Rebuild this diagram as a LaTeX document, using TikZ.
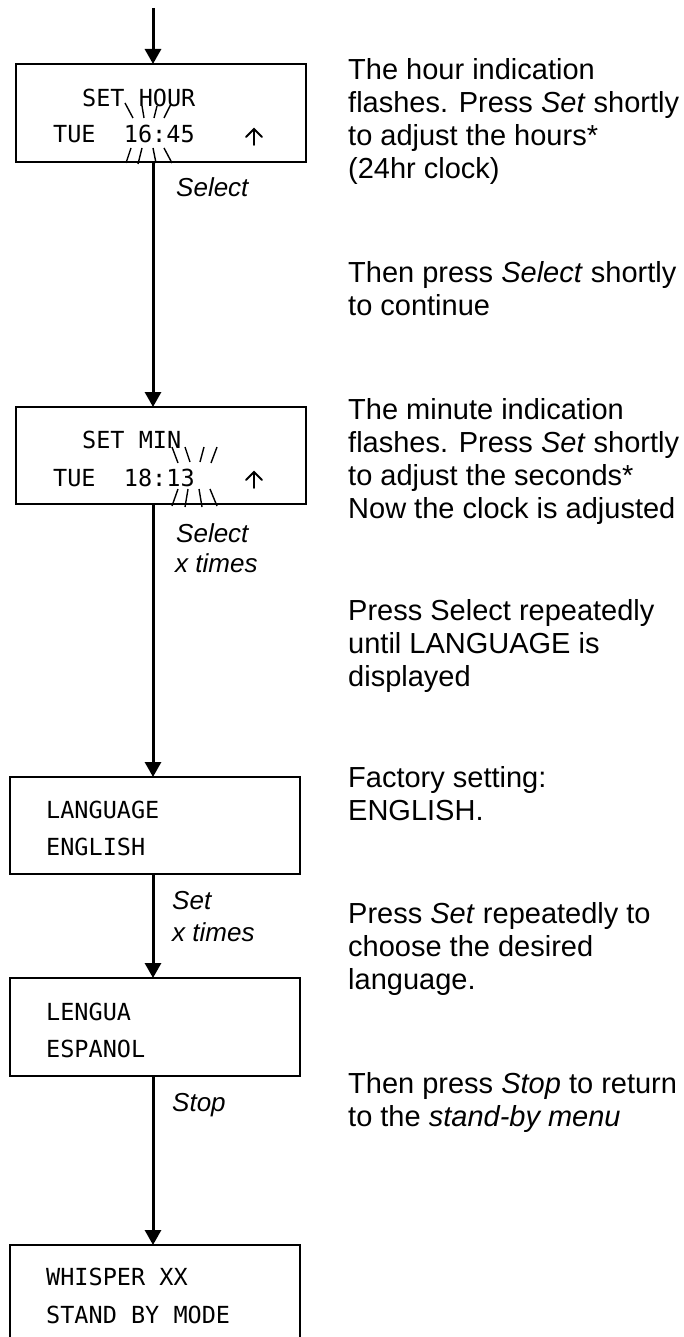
\documentclass[tikz,border=0pt]{standalone}
\usepackage{fontspec}
\setmainfont{Liberation Sans}
\newfontfamily\lcdfont{DejaVu Sans Mono}
\usetikzlibrary{arrows.meta}
\begin{document}
\begin{tikzpicture}[x=1pt,y=-1pt,
  lcd/.style={draw, line width=1.8pt, rectangle, inner sep=0pt, outer sep=0pt, anchor=north west},
  flow/.style={line width=3pt, -{Triangle[width=16pt,length=15pt]}},
  disp/.style={anchor=base west, inner sep=0pt, font=\lcdfont\fontsize{23.5}{28}\selectfont},
  lbl/.style={anchor=base west, inner sep=0pt, font=\fontsize{26}{30}\selectfont\itshape},
  desc/.style={anchor=base west, inner sep=0pt, font=\fontsize{29}{33}\selectfont},
  flash/.style={line width=1.4pt},
  uparrow/.style={line width=1.8pt, line cap=round, line join=miter}]
\useasboundingbox (0,0) rectangle (683,1337);
\clip (0,0) rectangle (683,1337);
% boxes
\node[lcd, minimum width=290pt, minimum height=98pt] (b1) at (16,64) {};
\node[lcd, minimum width=290pt, minimum height=97pt] (b2) at (16,407) {};
\node[lcd, minimum width=290pt, minimum height=97pt] (b3) at (10,777) {};
\node[lcd, minimum width=290pt, minimum height=98pt] (b4) at (10,978) {};
\node[lcd, minimum width=290pt, minimum height=110pt] (b5) at (10,1245) {};
% display texts
\node[disp] (t1a) at (82,107) {SET HOUR};
\node[disp] (t1b) at (53,143) {TUE\ \ 16:45};
\node[disp] (t2a) at (82,448) {SET MIN};
\node[disp] (t2b) at (53,486) {TUE\ \ 18:13};
\node[disp] (t3a) at (46,818) {LANGUAGE};
\node[disp] (t3b) at (46,855) {ENGLISH};
\node[disp] (t4a) at (46,1020) {LENGUA};
\node[disp] (t4b) at (46,1057) {ESPANOL};
\node[disp] (t5a) at (46,1285) {WHISPER XX};
\node[disp] (t5b) at (46,1323) {STAND BY MODE};
% up arrows on the displays
\draw[uparrow] (254,145) -- (254,129) (246,137) -- (254,129) -- (262,137);
\draw[uparrow] (254,488) -- (254,472) (246,480) -- (254,472) -- (262,480);
% flash marks
\draw[flash] (125,103)--(133,118) (142,106)--(144,118) (157,106)--(154,118) (171,104)--(164,118);
\draw[flash] (131,148)--(126,163) (142,148)--(138,164) (153,148)--(156,163) (164,148)--(172,163);
\draw[flash] (172,447)--(178,463) (185,447)--(190,462) (204,447)--(200,462) (217,447)--(211,463);
\draw[flash] (178,489)--(172,506) (188,489)--(185,507) (199,489)--(202,507) (210,489)--(217,506);
% connectors
\coordinate (start) at (153,8);
\draw[flow] (start) -- (start |- b1.north);
\draw[flow] (start |- b1.south) -- (start |- b2.north);
\draw[flow] (start |- b2.south) -- (start |- b3.north);
\draw[flow] (start |- b3.south) -- (start |- b4.north);
\draw[flow] (start |- b4.south) -- (start |- b5.north);
% connector labels
\node[lbl] (l1) at (176,197) {Select};
\node[lbl] (l2) at (176,542) {Select};
\node[lbl] (l2b) at (175,572) {x times};
\node[lbl] (l3) at (172,909) {Set};
\node[lbl] (l3b) at (172,941) {x times};
\node[lbl] (l4) at (172,1111) {Stop};
% descriptions
\node[desc] (d1) at (348,80) {\parbox[t]{340pt}{\raggedright The hour indication\\flashes. Press \textit{Set} shortly\\to adjust the hours*\\(24hr clock)}};
\node[desc] (d2) at (348,283) {\parbox[t]{340pt}{\raggedright Then press \textit{Select} shortly\\to continue}};
\node[desc] (d3) at (348,419) {\parbox[t]{340pt}{\raggedright The minute indication\\flashes. Press \textit{Set} shortly\\to adjust the seconds*\\Now the clock is adjusted}};
\node[desc] (d4) at (348,620) {\parbox[t]{340pt}{\raggedright Press Select repeatedly\\until LANGUAGE is\\displayed}};
\node[desc] (d5) at (348,787) {\parbox[t]{340pt}{\raggedright Factory setting:\\ENGLISH.}};
\node[desc] (d6) at (348,923) {\parbox[t]{340pt}{\raggedright Press \textit{Set} repeatedly to\\choose the desired\\language.}};
\node[desc] (d7) at (348,1093) {\parbox[t]{340pt}{\raggedright Then press \textit{Stop} to return\\to the \textit{stand-by menu}}};
\end{tikzpicture}
\end{document}
